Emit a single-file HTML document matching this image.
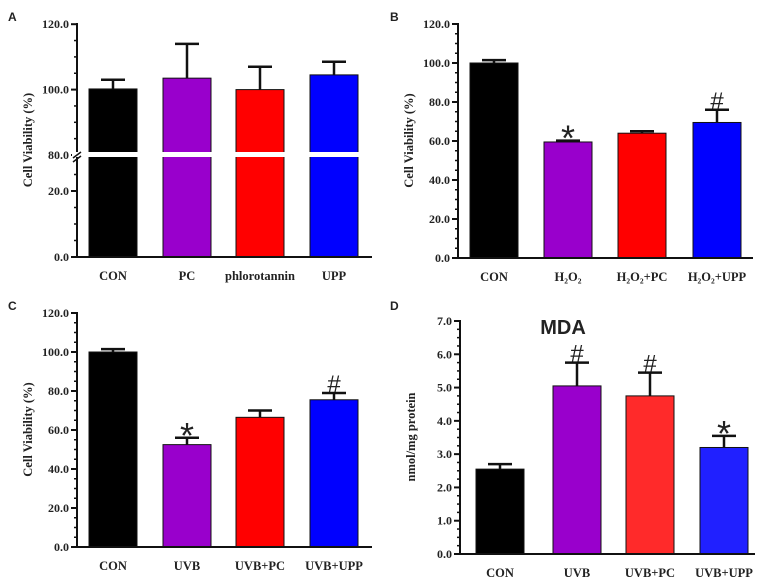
<!DOCTYPE html>
<html><head><meta charset="utf-8">
<style>
body{margin:0;background:#fff;width:767px;height:577px;overflow:hidden}
svg{display:block}
text{font-family:"Liberation Serif",serif;font-weight:bold;fill:#222}
.pl{font-family:"Liberation Sans",sans-serif;font-size:12px;font-weight:bold}
</style></head>
<body>
<svg id="chart" width="767" height="577"></svg>
<script>
const catsA=["CON","PC","phlorotannin","UPP"];
const valsA=[100.2,103.5,100.0,104.5];
const errA=[103.0,114.0,107.0,108.5];
const catsB=["CON","H₂O₂","H₂O₂+PC","H₂O₂+UPP"];
const valsB=[100.0,59.5,64.0,69.5];
const errB=[101.5,60.2,65.0,76.0];
const markB=["","*","","#"];
const catsC=["CON","UVB","UVB+PC","UVB+UPP"];
const valsC=[100.0,52.5,66.5,75.5];
const errC=[101.5,56.0,70.0,79.0];
const markC=["","*","","#"];
const catsD=["CON","UVB","UVB+PC","UVB+UPP"];
const valsD=[2.55,5.05,4.75,3.2];
const errD=[2.7,5.75,5.45,3.55];
const markD=["","#","#","*"];
const ticksViab=[0,20,40,60,80,100,120];
const ticksD=[0,1,2,3,4,5,6,7];

const NS="http://www.w3.org/2000/svg";
const svg=document.getElementById('chart');
function el(tag,attrs,parent,txt){const e=document.createElementNS(NS,tag);for(const k in attrs)e.setAttribute(k,attrs[k]);if(txt!==undefined)e.textContent=txt;(parent||svg).appendChild(e);return e;}

function panel(o){
  const g=el('g',{});
  
  
  const y=o.yfn;
  o.vals.forEach((v,i)=>{
    const cx=o.centers[i],w=48;
    const top=y(v);
    const b=el('rect',{x:cx-w/2,y:top,width:w,height:o.y0-top,fill:o.colors[i],stroke:'#111','stroke-width':1},g);
    
    
    const ey=y(o.err[i]);
    const e1=el('line',{x1:cx,x2:cx,y1:top,y2:ey,stroke:'#111','stroke-width':2.5},g);
    
    
    el('line',{x1:cx-12,x2:cx+12,y1:ey,y2:ey,stroke:'#111','stroke-width':2.5},g);
    if(o.marks&&o.marks[i]){
      const m=o.marks[i];
      const t=el('text',{x:cx,y:m=='*'?ey+10:ey-1,'text-anchor':'middle','font-size':m=='*'?36:24,style:'font-family:"Liberation Sans",sans-serif;font-weight:normal',fill:'#111'},g,m);
      
      
    }
    const xl=el('text',{x:cx,y:o.y0+23,'text-anchor':'middle','font-size':12.5},g,o.cats[i]);
    
    
  });
  const ax=el('line',{x1:o.ax,x2:o.ax,y1:o.ytop,y2:o.y0+1,stroke:'#111','stroke-width':2},g);
  
  
  const xa=el('line',{x1:o.ax-1,x2:o.xend,y1:o.y0,y2:o.y0,stroke:'#111','stroke-width':2},g);
  
  
  o.ticks.forEach((t,i)=>{
    const ty=y(t);
    el('line',{x1:o.ax-6,x2:o.ax,y1:ty,y2:ty,stroke:'#111','stroke-width':2},g);
    const tl=el('text',{x:o.ax-8,y:ty+4,'text-anchor':'end','font-size':12},g,t.toFixed(1));
    
    
    if(i<o.ticks.length-1&&!o.nominor){
      for(let k=1;k<4;k++){const mv=t+(o.ticks[i+1]-t)*k/4;const my=y(mv);el('line',{x1:o.ax-3,x2:o.ax,y1:my,y2:my,stroke:'#111','stroke-width':1.5},g);}
    }
  });
  const yt=el('text',{x:0,y:0,'text-anchor':'middle','font-size':12.5,transform:`translate(${o.ax-45},${(o.ytop+o.y0)/2}) rotate(-90)`},g,o.ytitle);
  
  
  const pl=el('text',{x:o.lx,y:o.ly,class:'pl'},g,o.label);
  
  
  return g;
}

const yA=v=> v<=40 ? 257-v*3.3 : 155-(v-80)*3.27;
const gA=panel({name:'panel-a',label:'A',lx:8,ly:21,cats:catsA,vals:valsA,err:errA,nominor:true,
  colors:['#000','#9900cc','#ff0000','#0000ff'],centers:[113,187,260,334],yfn:yA,y0:257,ytop:23,ax:77,xend:372,
  ticks:[0,20,80,100,120],ytitle:'Cell Viability (%)'});
[5,10,15,25,85,90,95,105,110,115].forEach(v=>el('line',{x1:74,x2:77,y1:yA(v),y2:yA(v),stroke:'#111','stroke-width':1.5},gA));
const brk=el('rect',{x:72,y:152,width:290,height:5,fill:'#fff'},gA);


el('path',{d:'M73,158 L81,152 M73,162 L81,156',stroke:'#111','stroke-width':1.5,fill:'none'},gA);

const yB=v=>258-v*(234/120);
panel({name:'panel-b',label:'B',lx:390,ly:21,cats:catsB,vals:valsB,err:errB,marks:markB,
  colors:['#000','#9900cc','#ff0000','#0000ff'],centers:[494,568,642,717],yfn:yB,y0:258,ytop:23,ax:458,xend:753,
  ticks:ticksViab,ytitle:'Cell Viability (%)'});

const yC=v=>547-v*(234/120);
panel({name:'panel-c',label:'C',lx:8,ly:310,cats:catsC,vals:valsC,err:errC,marks:markC,
  colors:['#000','#9900cc','#ff0000','#0000ff'],centers:[113,187,260,334],yfn:yC,y0:547,ytop:312,ax:77,xend:372,
  ticks:ticksViab,ytitle:'Cell Viability (%)'});

const yD=v=>554-v*(233/7);
panel({name:'panel-d',label:'D',lx:390,ly:310,cats:catsD,vals:valsD,err:errD,marks:markD,
  colors:['#000','#9900cc','#ff2a2a','#2020ff'],centers:[500,577,650,724],yfn:yD,y0:554,ytop:320,ax:460,xend:755,
  ticks:ticksD,ytitle:'nmol/mg protein'});
const mt=el('text',{x:563,y:334,'text-anchor':'middle','font-size':20,style:'font-family:"Liberation Sans",sans-serif;font-weight:bold',fill:'#111'},svg,'MDA');


</script>
</body></html>
